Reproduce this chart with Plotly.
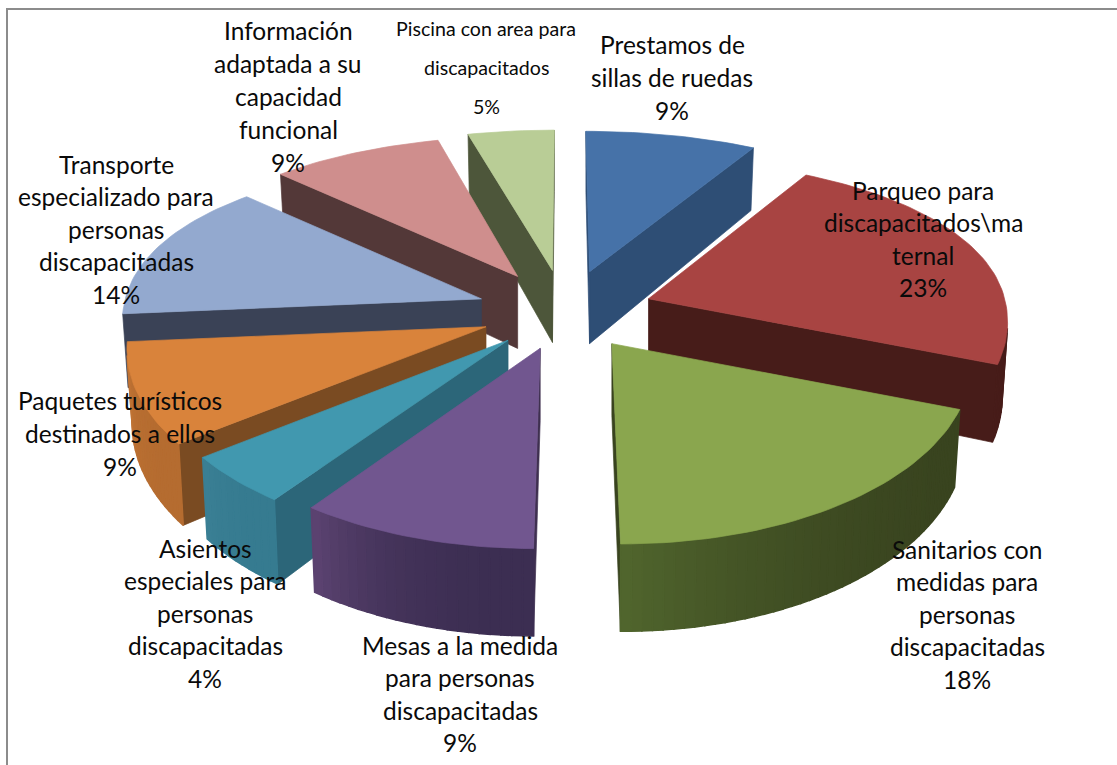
import math
import plotly.graph_objects as go

# ---- data ----
categories = [
    ["Prestamos de", "sillas de ruedas"],
    ["Parqueo para", "discapacitados\\ma", "ternal"],
    ["Sanitarios con", "medidas para", "personas", "discapacitadas"],
    ["Mesas a la medida", "para personas", "discapacitadas"],
    ["Asientos", "especiales para", "personas", "discapacitadas"],
    ["Paquetes turísticos", "destinados a ellos"],
    ["Transporte", "especializado para", "personas", "discapacitadas"],
    ["Información", "adaptada a su", "capacidad", "funcional"],
    ["Piscina con area para", "discapacitados"],
]
values = [9.1, 22.7, 18.2, 9.1, 4.4, 9.1, 13.6, 9.1, 4.6]

# ---- styles ----
top_colors = ["#4672a8", "#a84442", "#8aa64e", "#71568f", "#4198af",
              "#d9833b", "#93a9cf", "#cf8e8d", "#b9cd96"]
radial_colors = ["#2e4e75", "#471c19", "#39441f", "#3f3050", "#2c6679",
                 "#7a4b22", "#3a4256", "#533838", "#4d563a"]
outer_start = ["#2e4e75", "#471c19", "#39441f", "#3c2e52", "#367b90",
               "#b56c30", "#3a4256", "#533838", "#4d563a"]
outer_end = ["#2e4e75", "#471c19", "#50652d", "#5b4270", "#3a7f94",
             "#c47636", "#3a4256", "#533838", "#4d563a"]
label_x = [672, 923, 967, 460, 205, 120, 116, 288, 486]
label_y0 = [44, 190, 549, 645, 548, 400, 164, 30, 28]
label_step = [33, 32.5, 32.5, 32.5, 32.5, 33, 32.5, 33, 39]
label_size = [24.5] * 8 + [19.6]

CX, CY = 565, 310
RX, RY = 353, 165
PERSP = 0.176
EXPLODE_X, EXPLODE_Y = 87, 40
DEPTH = 72
BOTTOM_SHRINK = 0.985
SIDE_LIFT = 10


def project(ax, ay, u, v, lower=False):
    w = 1 / (1 - PERSP * v)
    x = ax + RX * u * w + (ax - CX) * (w - 1) * abs(v)
    y = ay + RY * v * w - SIDE_LIFT * (1 - v * v) * (u * u + v * v)
    if lower:
        x = ax + (x - ax) * BOTTOM_SHRINK
        y += DEPTH * w
    return x, y


def mix(c1, c2, t):
    a = [int(c1[i:i + 2], 16) for i in (1, 3, 5)]
    b = [int(c2[i:i + 2], 16) for i in (1, 3, 5)]
    return "rgb(%d,%d,%d)" % tuple(round(p + (q - p) * t) for p, q in zip(a, b))


def poly(fig, pts, color, width=0.7):
    xs = [p[0] for p in pts] + [pts[0][0]]
    ys = [p[1] for p in pts] + [pts[0][1]]
    fig.add_trace(go.Scatter(x=xs, y=ys, mode="lines", fill="toself", fillcolor=color,
                             line=dict(color=color, width=width), hoverinfo="skip",
                             showlegend=False))


def area(pts):
    return sum(pts[i][0] * pts[(i + 1) % len(pts)][1] - pts[(i + 1) % len(pts)][0] * pts[i][1]
               for i in range(len(pts)))


total = sum(values)
slices = []
cum = 0
for i, val in enumerate(values):
    a0 = cum / total * 2 * math.pi
    cum += val
    a1 = cum / total * 2 * math.pi
    slices.append((i, a0, a1))
slices.sort(key=lambda s: -math.cos((s[1] + s[2]) / 2))

fig = go.Figure()
for i, a0, a1 in slices:
    mid = (a0 + a1) / 2
    ax, ay = CX + EXPLODE_X * math.sin(mid), CY - EXPLODE_Y * math.cos(mid)
    n = max(8, int((a1 - a0) * 40))
    ring = [(math.sin(a0 + (a1 - a0) * k / n), -math.cos(a0 + (a1 - a0) * k / n))
            for k in range(n + 1)]
    top_arc = [project(ax, ay, u, v) for u, v in ring]
    low_arc = [project(ax, ay, u, v, True) for u, v in ring]
    apex_t = project(ax, ay, 0, 0)
    apex_l = project(ax, ay, 0, 0, True)
    wall_a = [apex_t, top_arc[0], low_arc[0], apex_l]
    wall_b = [apex_t, apex_l, low_arc[-1], top_arc[-1]]
    for wall in (wall_a, wall_b):
        if area(wall) < 0:
            poly(fig, wall, radial_colors[i])
    for k in range(n):
        quad = [top_arc[k], top_arc[k + 1], low_arc[k + 1], low_arc[k]]
        if area(quad) < 0:
            t = k / max(1, n - 1)
            poly(fig, quad, mix(outer_start[i], outer_end[i], t ** 2.5), width=1.5)
    poly(fig, [apex_t] + top_arc, top_colors[i])

for i, lines in enumerate(categories):
    all_lines = lines + [f"{round(values[i])}%"]
    for j, line in enumerate(all_lines):
        fig.add_annotation(x=label_x[i], y=label_y0[i] + j * label_step[i], text=line,
                           showarrow=False, xanchor="center", yanchor="middle",
                           font=dict(family="Lato", size=label_size[i], color="#0a0a0a"))

fig.add_shape(type="rect", x0=7, y0=9, x1=1140, y1=790,
              line=dict(color="#8c8c8c", width=2), layer="above")
fig.update_layout(width=1117, height=765, margin=dict(l=0, r=0, t=0, b=0),
                  paper_bgcolor="white", plot_bgcolor="white", showlegend=False,
                  xaxis=dict(range=[0, 1117], visible=False),
                  yaxis=dict(range=[765, 0], visible=False))
fig.write_html("out.html", post_script="document.body.style.margin='0';document.body.style.overflow='hidden';",
               config={"displayModeBar": False})
